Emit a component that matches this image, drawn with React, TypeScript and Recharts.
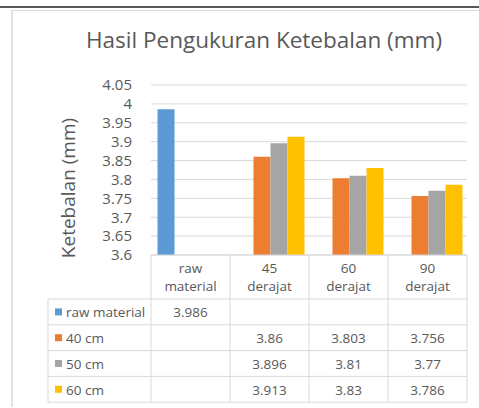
import React from 'react';
import { BarChart, Bar, XAxis, YAxis, CartesianGrid, Customized } from 'recharts';

const categories = ['raw material', '45 derajat', '60 derajat', '90 derajat'];
const seriesNames = ['raw material', '40 cm', '50 cm', '60 cm'];
const rawMaterial = [3.986, null, null, null];
const cm40 = [null, 3.86, 3.803, 3.756];
const cm50 = [null, 3.896, 3.81, 3.77];
const cm60 = [null, 3.913, 3.83, 3.786];
const yTicks = [3.6, 3.65, 3.7, 3.75, 3.8, 3.85, 3.9, 3.95, 4, 4.05];
const colors = ['#5B9BD5', '#ED7D31', '#A5A5A5', '#FFC000'];
const keys = ['s0', 's1', 's2', 's3'];
const seriesValues = [rawMaterial, cm40, cm50, cm60];

const data = categories.map((c, i) => ({
  name: c,
  s0: rawMaterial[i],
  s1: cm40[i],
  s2: cm50[i],
  s3: cm60[i],
}));

const FONT = '"Open Sans", sans-serif';
const TEXT = '#595959';
const BORDER = '#d9d9d9';
const W = 479;
const H = 408;
const BAND = 79;
const HEADER_H = 44;
const ROW_H = 25.8;

const CategoryTick = (props: any) => {
  const { x, y, payload, index } = props;
  const lines = String(payload.value).split(' ');
  const half = BAND / 2;
  const tableTop = y + HEADER_H;
  const els: any[] = [];
  els.push(<line key="vl" x1={x - half} x2={x - half} y1={y} y2={tableTop + ROW_H * 4} stroke={BORDER} />);
  if (index === categories.length - 1) {
    els.push(<line key="vr" x1={x + half} x2={x + half} y1={y} y2={tableTop + ROW_H * 4} stroke={BORDER} />);
  }
  for (let r = 0; r <= 4; r++) {
    els.push(<line key={'h' + r} x1={x - half} x2={x + half} y1={tableTop + r * ROW_H} y2={tableTop + r * ROW_H} stroke={BORDER} />);
  }
  lines.forEach((ln, li) => {
    els.push(
      <text key={'t' + li} x={x} y={y + 18 + li * 18} textAnchor="middle" fill={TEXT} fontSize={13.5} fontFamily={FONT}>
        {ln}
      </text>
    );
  });
  seriesValues.forEach((vals, r) => {
    const v = vals[payload.index ?? index];
    if (v !== null && v !== undefined) {
      els.push(
        <text key={'v' + r} x={x} y={tableTop + r * ROW_H + 18.3} textAnchor="middle" fill={TEXT} fontSize={13.5} fontFamily={FONT}>
          {String(v)}
        </text>
      );
    }
  });
  return <g>{els}</g>;
};

const Decor = () => {
  const tableTop = 255 + HEADER_H;
  const left = 48;
  const right = 151;
  const els: any[] = [];
  els.push(<line key="topdark" x1={0} x2={W} y1={7} y2={7} stroke="#222" strokeWidth={1.6} />);
  els.push(<line key="toplight" x1={12} x2={W} y1={10.5} y2={10.5} stroke={BORDER} />);
  els.push(<line key="leftframe" x1={12} x2={12} y1={10} y2={407} stroke={BORDER} strokeWidth={1.5} />);
  els.push(
    <text key="title" x={264} y={48} textAnchor="middle" fill={TEXT} fontSize={22.5} fontFamily={FONT}>
      Hasil Pengukuran Ketebalan (mm)
    </text>
  );
  els.push(
    <text key="ylab" x={68} y={188} transform="rotate(-90, 68, 188)" textAnchor="middle" dominantBaseline="central" fill={TEXT} fontSize={19} fontFamily={FONT}>
      Ketebalan (mm)
    </text>
  );
  els.push(<line key="lv" x1={left} x2={left} y1={tableTop} y2={tableTop + 4 * ROW_H} stroke={BORDER} />);
  for (let r = 0; r <= 4; r++) {
    els.push(<line key={'lh' + r} x1={left} x2={right} y1={tableTop + r * ROW_H} y2={tableTop + r * ROW_H} stroke={BORDER} />);
  }
  seriesNames.forEach((n, r) => {
    const cy = tableTop + r * ROW_H + ROW_H / 2;
    els.push(<rect key={'sq' + r} x={55} y={cy - 3.5} width={7} height={7} fill={colors[r]} />);
    els.push(
      <text key={'ln' + r} x={66} y={tableTop + r * ROW_H + 18.3} fill={TEXT} fontSize={13.5} fontFamily={FONT}>
        {n}
      </text>
    );
  });
  return <g>{els}</g>;
};

export default function App() {
  return (
    <div style={{ position: 'absolute', left: 0, top: 0, width: W, height: H, background: '#fff' }}>
      <BarChart
        width={W}
        height={H}
        data={data}
        margin={{ top: 85, right: 12, bottom: 0, left: 0 }}
        barGap={0}
        barCategoryGap={6.5}
      >
        <CartesianGrid vertical={false} stroke={BORDER} />
        <XAxis
          dataKey="name"
          height={153}
          interval={0}
          tickSize={0}
          tickMargin={0}
          axisLine={{ stroke: BORDER }}
          tickLine={false}
          tick={<CategoryTick />}
        />
        <YAxis
          width={151}
          domain={[3.6, 4.05]}
          ticks={yTicks}
          allowDataOverflow
          axisLine={false}
          tickLine={false}
          tickSize={0}
          tickMargin={19}
          interval={0}
          tickFormatter={(v: number) => String(v)}
          tick={{ fill: TEXT, fontSize: 15, fontFamily: FONT }}
        />
        {keys.map((k, i) => (
          <Bar key={k} dataKey={k} name={seriesNames[i]} fill={colors[i]} isAnimationActive={false} />
        ))}
        <Customized component={<Decor />} />
      </BarChart>
    </div>
  );
}
